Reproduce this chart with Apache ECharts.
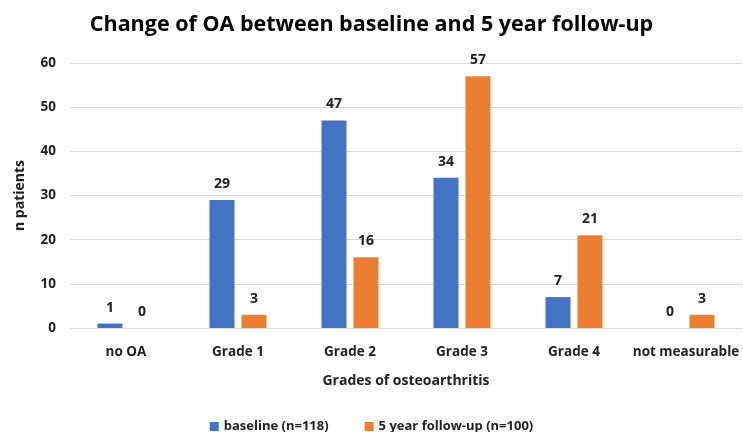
<!DOCTYPE html>
<html>
<head>
<meta charset="utf-8">
<script src="https://cdn.jsdelivr.net/npm/echarts@6/dist/echarts.min.js"></script>
<style>
  html, body { margin: 0; padding: 0; background: #fff; }
  #chart { width: 743px; height: 432px; }
</style>
</head>
<body>
<div id="chart"></div>
<script>
const categories = ["no OA", "Grade 1", "Grade 2", "Grade 3", "Grade 4", "not measurable"];
const baseline = [1, 29, 47, 34, 7, 0];
const followUp = [0, 3, 16, 57, 21, 3];
const yTicks = [0, 10, 20, 30, 40, 50, 60];

const FONT = "Open Sans";
const chart = echarts.init(document.getElementById("chart"));

const barLabel = {
  show: true,
  position: "top",
  distance: 9,
  color: "#222",
  fontFamily: FONT,
  fontWeight: "bold",
  fontSize: 14
};

chart.setOption({
  animation: false,
  title: {
    text: "Change of OA between baseline and 5 year follow-up",
    left: "center",
    top: 9,
    textStyle: { fontFamily: FONT, fontWeight: "bold", fontSize: 21.5, color: "#000" }
  },
  legend: {
    bottom: -6,
    left: "center",
    itemWidth: 9,
    itemHeight: 9,
    itemGap: 36,
    icon: "rect",
    textStyle: { fontFamily: FONT, fontWeight: "bold", fontSize: 13, color: "#222" },
    data: ["baseline (n=118)", "5 year follow-up (n=100)"]
  },
  grid: { left: 70, right: 1, top: 63, bottom: 104 },
  xAxis: {
    type: "category",
    data: categories,
    name: "Grades of osteoarthritis",
    nameLocation: "middle",
    nameGap: 46,
    nameTextStyle: { fontFamily: FONT, fontWeight: "bold", fontSize: 14, color: "#222" },
    axisTick: { show: false },
    axisLine: { lineStyle: { color: "#d9d9d9" } },
    axisLabel: { interval: 0, fontFamily: FONT, fontWeight: "bold", fontSize: 13.5, color: "#222", margin: 17 }
  },
  yAxis: {
    type: "value",
    min: yTicks[0],
    max: yTicks[yTicks.length - 1],
    interval: 10,
    name: "n patients",
    nameLocation: "middle",
    nameGap: 43,
    nameTextStyle: { fontFamily: FONT, fontWeight: "bold", fontSize: 14, color: "#222" },
    axisLine: { show: false },
    axisTick: { show: false },
    splitLine: { lineStyle: { color: "#d9d9d9" } },
    axisLabel: { fontFamily: FONT, fontWeight: "bold", fontSize: 13.5, color: "#222", margin: 14 }
  },
  series: [
    {
      name: "baseline (n=118)",
      type: "bar",
      data: baseline,
      barWidth: 25,
      barGap: "28%",
      itemStyle: { color: "#4472c4" },
      label: barLabel
    },
    {
      name: "5 year follow-up (n=100)",
      type: "bar",
      data: followUp,
      barWidth: 25,
      itemStyle: { color: "#ed7d31" },
      label: barLabel
    }
  ]
});
</script>
</body>
</html>
